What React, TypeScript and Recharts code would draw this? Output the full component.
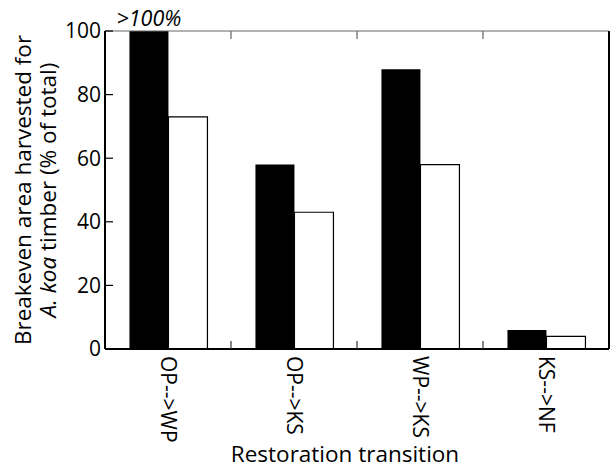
import React from "react";
import { BarChart, Bar, XAxis, YAxis, LabelList } from "recharts";

// values (% of total area harvested)
const transitions = ["OP-->WP", "OP-->KS", "WP-->KS", "KS-->NF"];
const blackBars = [100, 58, 88, 6];
const whiteBars = [73, 43, 58, 4];
const yTicks = [0, 20, 40, 60, 80, 100];

const data = transitions.map((name, i) => ({
  name,
  black: blackBars[i],
  white: whiteBars[i],
}));

const FONT = "'Open Sans', sans-serif";

// bottom category label, rotated, plus an inward tick at the band's left edge
const BottomTick = (props: any) => {
  const { x, y, payload, index } = props;
  const half = payload?.offset ?? 63;
  return (
    <g>
      {index > 0 && (
        <line x1={x - half} x2={x - half} y1={y} y2={y - 8} stroke="#333" strokeWidth={1.2} />
      )}
      <text
        transform={`translate(${x},${y + 7}) rotate(90)`}
        dy="0.35em"
        textAnchor="start"
        fontFamily={FONT}
        fontSize={21}
        fill="#000"
      >
        {payload.value}
      </text>
    </g>
  );
};

const TopTick = (props: any) => {
  const { x, y, payload, index } = props;
  const half = payload?.offset ?? 63;
  if (index === 0) return <g />;
  return <line x1={x - half} x2={x - half} y1={y} y2={y + 8} stroke="#666" strokeWidth={1.2} />;
};

const YTitle = (props: any) => {
  const vb = props.viewBox;
  const cy = vb.y + vb.height / 2;
  const ax = vb.x + vb.width;
  return (
    <g fontFamily={FONT} fontSize={22.5} fill="#000">
      <text transform={`translate(${ax - 74},${cy}) rotate(-90)`} textAnchor="middle">
        Breakeven area harvested for
      </text>
      <text transform={`translate(${ax - 49},${cy}) rotate(-90)`} textAnchor="middle">
        <tspan fontStyle="italic">A. koa</tspan> timber (% of total)
      </text>
    </g>
  );
};

const XTitle = (props: any) => {
  const vb = props.viewBox;
  return (
    <text
      x={vb.x + vb.width / 2 - 12}
      y={462}
      textAnchor="middle"
      fontFamily={FONT}
      fontSize={22.5}
      fill="#000"
    >
      Restoration transition
    </text>
  );
};

const OverLabel = (props: any) => {
  const { x, y, width, index } = props;
  if (index !== 0) return null;
  return (
    <text
      x={x + width / 2}
      y={y - 5}
      textAnchor="middle"
      fontFamily={FONT}
      fontStyle="italic"
      fontSize={21.5}
      fill="#000"
    >
      {">100%"}
    </text>
  );
};

export default function App() {
  return (
    <div style={{ position: "absolute", left: 0, top: 0, background: "#fff" }}>
      <BarChart
        width={610}
        height={470}
        data={data}
        margin={{ top: 30, right: 0, bottom: 0, left: 104 }}
        barCategoryGap="19.4%"
        barGap={0}
      >
        <XAxis
          dataKey="name"
          height={121}
          tickLine={false}
          tickSize={0}
          tickMargin={0}
          axisLine={{ stroke: "#000", strokeWidth: 2 }}
          tick={<BottomTick />}
          interval={0}
          label={<XTitle />}
        />
        <XAxis
          xAxisId="top"
          orientation="top"
          dataKey="name"
          height={1}
          tickLine={false}
          tickSize={0}
          tickMargin={0}
          axisLine={{ stroke: "#666", strokeWidth: 1.2 }}
          tick={<TopTick />}
          interval={0}
        />
        <YAxis
          width={1}
          domain={[0, 100]}
          ticks={yTicks}
          allowDataOverflow
          tickSize={-8}
          tickMargin={12}
          axisLine={{ stroke: "#000", strokeWidth: 2 }}
          tickLine={{ stroke: "#000", strokeWidth: 1.2 }}
          tick={{ fontFamily: FONT, fontSize: 21, fill: "#000" }}
          label={<YTitle />}
        />
        <YAxis
          yAxisId="right"
          orientation="right"
          width={1}
          domain={[0, 100]}
          ticks={yTicks}
          tick={false}
          tickSize={-8}
          axisLine={{ stroke: "#000", strokeWidth: 2 }}
          tickLine={{ stroke: "#333", strokeWidth: 1.2 }}
        />
        <Bar dataKey="black" fill="#000" isAnimationActive={false}>
          <LabelList dataKey="black" content={<OverLabel />} />
        </Bar>
        <Bar dataKey="white" fill="#fff" stroke="#000" strokeWidth={1.2} isAnimationActive={false} />
      </BarChart>
    </div>
  );
}
